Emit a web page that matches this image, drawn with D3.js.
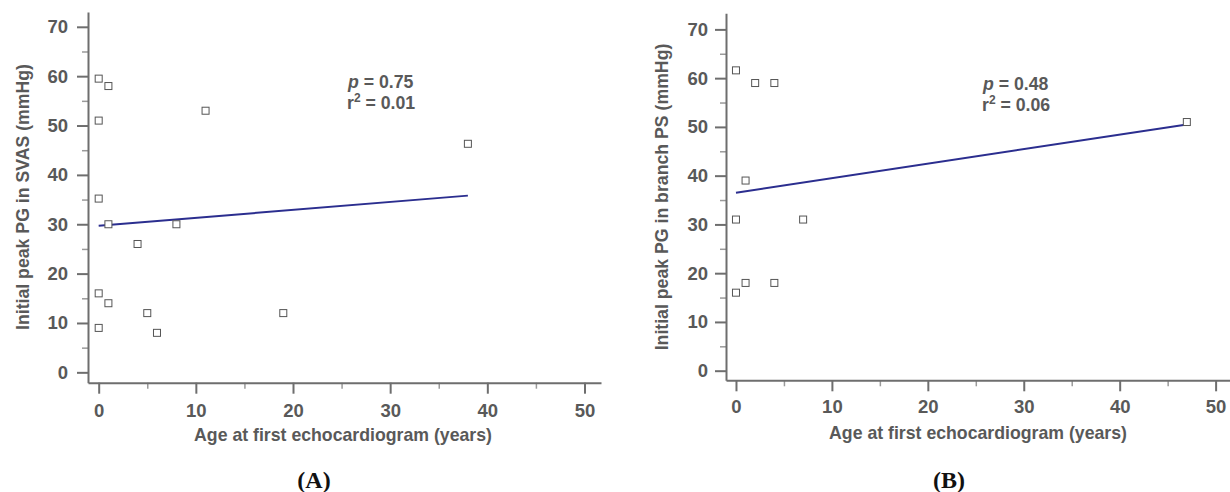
<!DOCTYPE html>
<html>
<head>
<meta charset="utf-8">
<script src="https://cdn.jsdelivr.net/npm/d3@7"></script>
<style>
  body { margin: 0; background: #fff; }
  svg { display: block; }
  .tick text { font-family: "Liberation Sans", Arial, sans-serif; font-weight: bold; font-size: 18.5px; fill: #595959; }
  .lbl { font-family: "Liberation Sans", Arial, sans-serif; font-weight: bold; font-size: 17.7px; fill: #595959; }
  .cap { font-family: "Liberation Serif", "Times New Roman", serif; font-weight: bold; font-size: 24px; fill: #111; }
</style>
</head>
<body>
<div id="chart"></div>
<script>
var width = 1230,
    height = 492;

// panel A: SVAS
var ageA = [0, 1, 0, 11, 0, 1, 8, 4, 0, 1, 5, 19, 0, 6, 38];
var pgA = [59.5, 58, 51, 53, 35.2, 30, 30, 26, 16, 14, 12, 12, 9, 8, 46.3];
var fitA = { x: [0, 38], y: [29.7, 35.8] };

// panel B: branch PS
var ageB = [0, 2, 4, 1, 0, 7, 0, 1, 4, 47];
var pgB = [61.6, 59, 59, 39, 31, 31, 16, 18, 18, 51];
var fitB = { x: [0, 47], y: [36.5, 50.5] };

var xMajor = [0, 10, 20, 30, 40, 50],
    xMinor = [5, 15, 25, 35, 45],
    yMajor = [0, 10, 20, 30, 40, 50, 60, 70],
    yMinor = [5, 15, 25, 35, 45, 55, 65];

var svg = d3.select("#chart")
    .append("svg")
    .attr("width", width)
    .attr("height", height);

function drawPanel(opt) {
    var x = d3.scaleLinear().domain(opt.xDomain).range(opt.xRange);
    var y = d3.scaleLinear().domain(opt.yDomain).range(opt.yRange);
    var g = svg.append("g");

    // minor ticks first (underneath)
    g.append("g")
        .attr("transform", "translate(0," + opt.yRange[0] + ")")
        .call(d3.axisBottom(x).tickValues(xMinor).tickSize(6).tickFormat(""))
        .call(function (a) {
            a.select(".domain").remove();
            a.selectAll("line").attr("stroke", "#9a9a9a").attr("stroke-width", 1.5);
        });
    g.append("g")
        .attr("transform", "translate(" + opt.xRange[0] + ",0)")
        .call(d3.axisLeft(y).tickValues(yMinor).tickSize(6).tickFormat(""))
        .call(function (a) {
            a.select(".domain").remove();
            a.selectAll("line").attr("stroke", "#9a9a9a").attr("stroke-width", 1.5);
        });

    // major axes
    g.append("g")
        .attr("transform", "translate(0," + opt.yRange[0] + ")")
        .call(d3.axisBottom(x).tickValues(xMajor).tickSize(11).tickSizeOuter(0).tickPadding(opt.xPad))
        .call(function (a) {
            a.select(".domain").attr("stroke", "#6e6e6e").attr("stroke-width", 2);
            a.selectAll("line").attr("stroke", "#6e6e6e").attr("stroke-width", 2);
        });
    g.append("g")
        .attr("transform", "translate(" + opt.xRange[0] + ",0)")
        .call(d3.axisLeft(y).tickValues(yMajor).tickSize(11).tickSizeOuter(0).tickPadding(opt.yPad))
        .call(function (a) {
            a.select(".domain").attr("stroke", "#6e6e6e").attr("stroke-width", 2);
            a.selectAll("line").attr("stroke", "#6e6e6e").attr("stroke-width", 2);
        });
    g.selectAll(".tick text").attr("font-size", null).attr("font-family", null);

    // fit line
    g.append("line")
        .attr("x1", x(opt.fit.x[0])).attr("y1", y(opt.fit.y[0]))
        .attr("x2", x(opt.fit.x[1])).attr("y2", y(opt.fit.y[1]))
        .attr("stroke", "#2b2e8f")
        .attr("stroke-width", 2);

    // points
    var s = 7;
    g.selectAll("rect.pt")
        .data(opt.ages)
        .enter().append("rect")
        .attr("class", "pt")
        .attr("x", function (d) { return x(d) - s / 2; })
        .attr("y", function (d, i) { return y(opt.pgs[i]) - s / 2; })
        .attr("width", s)
        .attr("height", s)
        .attr("fill", "#fff")
        .attr("stroke", "#555")
        .attr("stroke-width", 1);

    // stats
    var t1 = g.append("text").attr("class", "lbl")
        .attr("x", opt.stat[0]).attr("y", opt.stat[1]);
    t1.append("tspan").attr("font-style", "italic").text("p");
    t1.append("tspan").text(" = " + opt.p);
    var t2 = g.append("text").attr("class", "lbl")
        .attr("x", opt.stat[0] - 1).attr("y", opt.stat[1] + 21);
    t2.append("tspan").text("r");
    t2.append("tspan").attr("font-size", "12px").attr("dy", -7).text("2");
    t2.append("tspan").attr("dy", 7).text(" = " + opt.r2);

    // axis titles
    g.append("text").attr("class", "lbl")
        .attr("text-anchor", "middle")
        .attr("x", opt.xTitle[0]).attr("y", opt.xTitle[1])
        .text("Age at first echocardiogram (years)");
    g.append("text").attr("class", "lbl")
        .attr("text-anchor", "middle")
        .attr("transform", "translate(" + opt.yTitle[0] + "," + opt.yTitle[1] + ") rotate(-90)")
        .text(opt.yLabel);

    g.append("text").attr("class", "cap")
        .attr("text-anchor", "middle")
        .attr("x", opt.cap[0]).attr("y", opt.cap[1])
        .text(opt.capText);
}

drawPanel({
    ages: ageA, pgs: pgA, fit: fitA,
    xDomain: [-1.1, 51.7], xRange: [88, 601],
    yDomain: [-2.1, 73], yRange: [382.7, 12],
    xPad: 10, yPad: 9,
    p: "0.75", r2: "0.01", stat: [348, 88],
    xTitle: [343, 441], yTitle: [29, 197],
    yLabel: "Initial peak PG in SVAS (mmHg)",
    cap: [314, 488], capText: "(A)"
});

drawPanel({
    ages: ageB, pgs: pgB, fit: fitB,
    xDomain: [-1.04, 51.5], xRange: [726, 1230],
    yDomain: [-1.97, 73.3], yRange: [380.3, 13.3],
    xPad: 9, yPad: 7,
    p: "0.48", r2: "0.06", stat: [983, 90],
    xTitle: [978, 439], yTitle: [668, 197],
    yLabel: "Initial peak PG in branch PS (mmHg)",
    cap: [949, 488], capText: "(B)"
});
</script>
</body>
</html>
